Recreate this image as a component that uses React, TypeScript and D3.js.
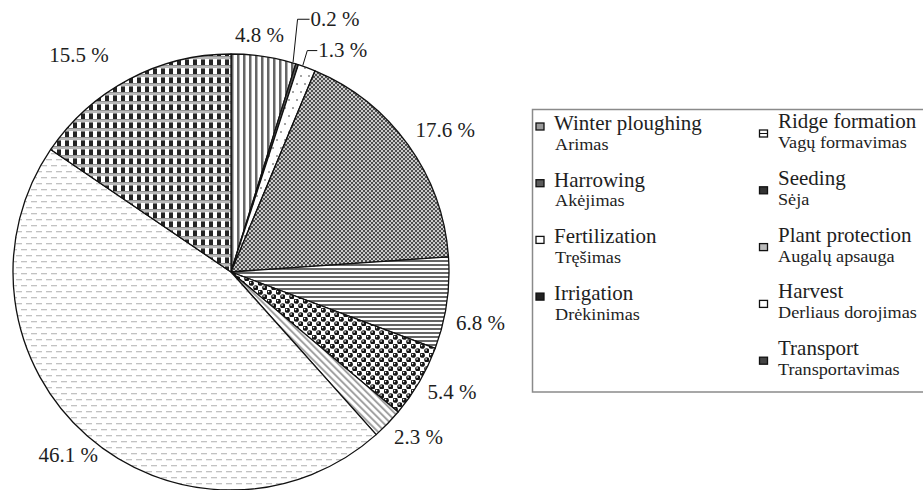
import React from 'react';
import * as d3 from 'd3';

// share of energy use per operation, % (clockwise from 12 o'clock)
const categories = ['Winter ploughing', 'Harrowing', 'Fertilization', 'Irrigation', 'Ridge formation', 'Seeding', 'Plant protection', 'Harvest', 'Transport'];
const subLabels = ['Arimas', 'Akėjimas', 'Tręšimas', 'Drėkinimas', 'Vagų formavimas', 'Sėja', 'Augalų apsauga', 'Derliaus dorojimas', 'Transportavimas'];
const shares = [4.8, 0.2, 1.3, 17.6, 6.8, 5.4, 2.3, 46.1, 15.5];

// layout
const W = 923, H = 490;
const cx = 231, cy = 272, r = 218;
const labelR = 250;
const nudges: [number, number][] = [[-9, 10], [0, 0], [0, 0], [11, 4], [2, 15], [5, -6], [8, -9], [2, -5], [-35, 4]];
const leaders: { [k: number]: { rise: number; run: number } } = { 1: { rise: 45, run: 12 }, 2: { rise: 17, run: 10 } };
const patternIds = ['pVert', 'pSolid', 'pDots', 'pCross', 'pHoriz', 'pCircle', 'pDiag', 'pDash', 'pCheck'];
const swatchFill = ['#9a9a9a', '#5a5a5a', '#ffffff', '#222', '#ffffff', '#333', '#bbbbbb', '#ffffff', '#444'];
const fontCss = 'Liberation Serif, DejaVu Serif, serif';
const ink = '#1e1e1e';

function Label({ x, y, text, anchor = 'middle', size = 20 }: { x: number; y: number; text: string; anchor?: string; size?: number }) {
  return (
    <text transform={`translate(${x},${y}) scale(1.05,1)`} textAnchor={anchor as any} dominantBaseline="central"
      style={{ fontFamily: fontCss, fontSize: size }} fill={ink}>{text}</text>
  );
}

export default function App() {
  const pie = d3.pie<number>().sort(null).value(d => d);
  const arcs = pie(shares);
  const arc = d3.arc<d3.PieArcDatum<number>>().innerRadius(0).outerRadius(r);

  const col1 = categories.slice(0, 4);
  const col2 = categories.slice(4);

  return (
    <svg width={W} height={H} style={{ position: 'fixed', left: 0, top: 0, background: '#fff' }}>
      <defs>
        <pattern id="pVert" width={6} height={6} patternUnits="userSpaceOnUse">
          <rect width={6} height={6} fill="#fff" />
          <rect width={2.5} height={6} fill="#666" />
        </pattern>
        <pattern id="pSolid" width={4} height={4} patternUnits="userSpaceOnUse">
          <rect width={4} height={4} fill="#555" />
        </pattern>
        <pattern id="pDots" width={8} height={16} patternUnits="userSpaceOnUse">
          <rect width={8} height={16} fill="#fff" />
          <circle cx={2} cy={4} r={0.8} fill="#333" />
          <circle cx={6} cy={12} r={0.8} fill="#333" />
        </pattern>
        <pattern id="pCross" width={4} height={4} patternUnits="userSpaceOnUse">
          <rect width={4} height={4} fill="#4e4e4e" />
          <circle cx={1} cy={1} r={0.95} fill="#fff" />
          <circle cx={3} cy={3} r={0.95} fill="#fff" />
        </pattern>
        <pattern id="pHoriz" width={4} height={4} patternUnits="userSpaceOnUse">
          <rect width={4} height={4} fill="#fff" />
          <rect width={4} height={2} fill="#666" />
        </pattern>
        <pattern id="pCircle" width={9} height={9} patternUnits="userSpaceOnUse">
          <rect width={9} height={9} fill="#fff" />
          <circle cx={2.25} cy={2.25} r={2.6} fill="#151515" />
          <circle cx={6.75} cy={6.75} r={2.6} fill="#151515" />
          <circle cx={1.6} cy={1.6} r={0.8} fill="#fff" />
          <circle cx={6.1} cy={6.1} r={0.8} fill="#fff" />
        </pattern>
        <pattern id="pDiag" width={5} height={5} patternUnits="userSpaceOnUse" patternTransform="rotate(-45)">
          <rect width={5} height={5} fill="#fff" />
          <rect width={1.8} height={5} fill="#9a9a9a" />
        </pattern>
        <pattern id="pDash" width={10} height={12} patternUnits="userSpaceOnUse">
          <rect width={10} height={12} fill="#fff" />
          <rect x={0} y={1} width={6} height={1.3} fill="#c2c2c2" />
          <rect x={5} y={7} width={6} height={1.3} fill="#c2c2c2" />
          <rect x={-5} y={7} width={6} height={1.3} fill="#c2c2c2" />
        </pattern>
        <pattern id="pCheck" width={8} height={9} patternUnits="userSpaceOnUse">
          <rect width={8} height={9} fill="#fff" />
          <rect width={8} height={2.6} fill="#8a8a8a" />
          <rect x={0} y={0.9} width={8} height={0.8} fill="#d0d0d0" />
          <rect x={2} y={3.4} width={4} height={5.6} fill="#242424" />
        </pattern>
      </defs>

      <g transform={`translate(${cx},${cy})`}>
        {arcs.map((a, i) => (
          <path key={i} d={arc(a) || ''} fill={`url(#${patternIds[i]})`} stroke="#111" strokeWidth={1.3} strokeLinejoin="round" />
        ))}
      </g>

      {arcs.map((a, i) => {
        const mid = (a.startAngle + a.endAngle) / 2;
        const lab = `${shares[i].toFixed(1)} %`;
        if (leaders[i]) {
          const sx = cx + r * Math.sin(mid), sy = cy - r * Math.cos(mid);
          const ey = sy - leaders[i].rise;
          const ex = sx + 0.5;
          const tx = ex + leaders[i].run;
          return (
            <g key={i}>
              <polyline points={`${sx - 4},${sy - 2} ${ex},${ey} ${tx},${ey}`} fill="none" stroke="#111" strokeWidth={1} />
              <Label x={tx + 1} y={ey} text={lab} anchor="start" />
            </g>
          );
        }
        const x = cx + labelR * Math.sin(mid) + nudges[i][0];
        const y = cy - labelR * Math.cos(mid) + nudges[i][1];
        return <Label key={i} x={x} y={y} text={lab} />;
      })}

      <rect x={532.5} y={109.5} width={420} height={282.5} fill="none" stroke="#8a8a8a" strokeWidth={1.5} />

      {col1.map((c, i) => {
        const by = 130 + i * 56.7;
        return (
          <g key={c}>
            <rect x={536} y={by - 7} width={8} height={7} fill={swatchFill[i]} stroke="#111" strokeWidth={1.3} />
            <text transform={`translate(554,${by}) scale(1.05,1)`} style={{ fontFamily: fontCss, fontSize: 20 }} fill={ink}>{c}</text>
            <text transform={`translate(555,${by + 19.5}) scale(1.07,1)`} style={{ fontFamily: fontCss, fontSize: 17 }} fill={ink}>{subLabels[i]}</text>
          </g>
        );
      })}
      {col2.map((c, j) => {
        const i = j + 4;
        const by = 128 + j * 56.8;
        return (
          <g key={c}>
            <rect x={759.5} y={by + 2} width={8} height={7} fill={swatchFill[i]} stroke="#111" strokeWidth={1.3} />
            {i === 4 && <line x1={760} x2={767} y1={by + 5.5} y2={by + 5.5} stroke="#111" strokeWidth={1} />}
            <text transform={`translate(778,${by}) scale(1.05,1)`} style={{ fontFamily: fontCss, fontSize: 20 }} fill={ink}>{c}</text>
            <text transform={`translate(778,${by + 20}) scale(1.07,1)`} style={{ fontFamily: fontCss, fontSize: 17 }} fill={ink}>{subLabels[i]}</text>
          </g>
        );
      })}
    </svg>
  );
}
